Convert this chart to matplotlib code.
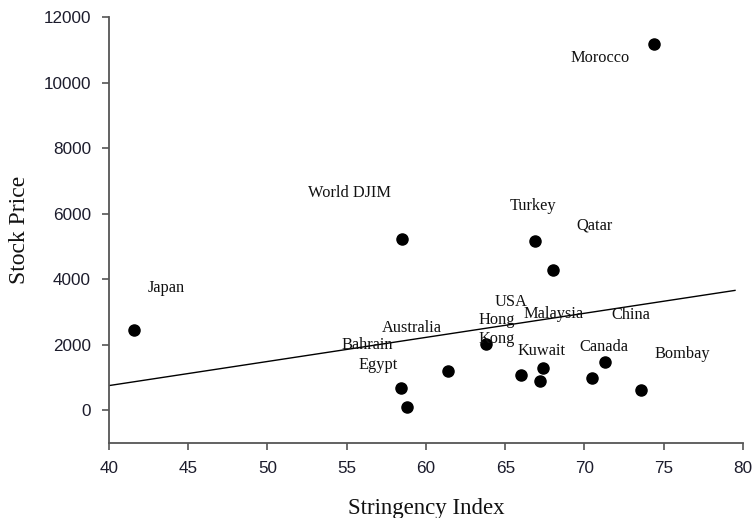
import numpy as np
import matplotlib
matplotlib.use("Agg")
import matplotlib.pyplot as plt

# Data
stringency = [41.6, 58.4, 58.8, 61.4, 63.8, 66.0, 67.4, 67.2, 70.5, 71.3,
              73.6, 66.9, 68.0, 58.5, 74.4]
stock_price = [2460, 670, 90, 1190, 2020, 1080, 1290, 880, 990, 1460,
               630, 5170, 4280, 5240, 11180]

# Fitted trend line (endpoints)
trend_x = [40.0, 79.5]
trend_y = [753, 3659]

# Country labels and where they sit (data coordinates, left edge / middle)
names = ["Japan", "World DJIM", "Morocco", "Turkey", "Qatar", "USA",
         "Malaysia", "China", "Hong\nKong", "Kuwait", "Canada", "Bombay",
         "Australia", "Bahrain", "Egypt"]
label_x = [42.46, 52.56, 69.09, 65.30, 69.46, 64.35, 66.18, 71.73, 63.34,
           65.80, 69.65, 74.45, 57.22, 54.64, 55.77]
label_y = [3741, 6638, 10754, 6241, 5631, 3314, 2948, 2918, 2460, 1820,
           1942, 1729, 2521, 2003, 1393]

x_ticks = np.arange(40, 81, 5)
y_ticks = np.arange(0, 12001, 2000)

fig = plt.figure(figsize=(7.55, 5.18), dpi=100)
ax = fig.add_axes([0.1444, 0.1448, 0.8396, 0.822])

ax.scatter(stringency, stock_price, s=64, color="black", zorder=3)
ax.plot(trend_x, trend_y, color="black", linewidth=1.0)

for name, lx, ly in zip(names, label_x, label_y):
    ax.text(lx, ly, name, ha="left", va="center", fontsize=11.8,
            family="Liberation Serif", color="#111111", linespacing=1.25)

ax.set_xlim(40, 80)
ax.set_ylim(-1000, 12000)
ax.set_xticks(x_ticks)
ax.set_yticks(y_ticks)

for side in ["top", "right"]:
    ax.spines[side].set_visible(False)
for side in ["left", "bottom"]:
    ax.spines[side].set_color("#555555")
    ax.spines[side].set_linewidth(1.3)

ax.tick_params(direction="out", length=5, width=1.2, color="#555555",
               labelsize=12.3, labelcolor="#1c1c2c", pad=8)
for lab in ax.get_xticklabels() + ax.get_yticklabels():
    lab.set_family("Liberation Sans")

ax.set_xlabel("Stringency Index", family="Liberation Serif", fontsize=16.5,
              labelpad=16, color="#111111")
ax.set_ylabel("Stock Price", family="Liberation Serif", fontsize=17,
              labelpad=10, color="#111111")

fig.savefig("out.png", dpi=100)
